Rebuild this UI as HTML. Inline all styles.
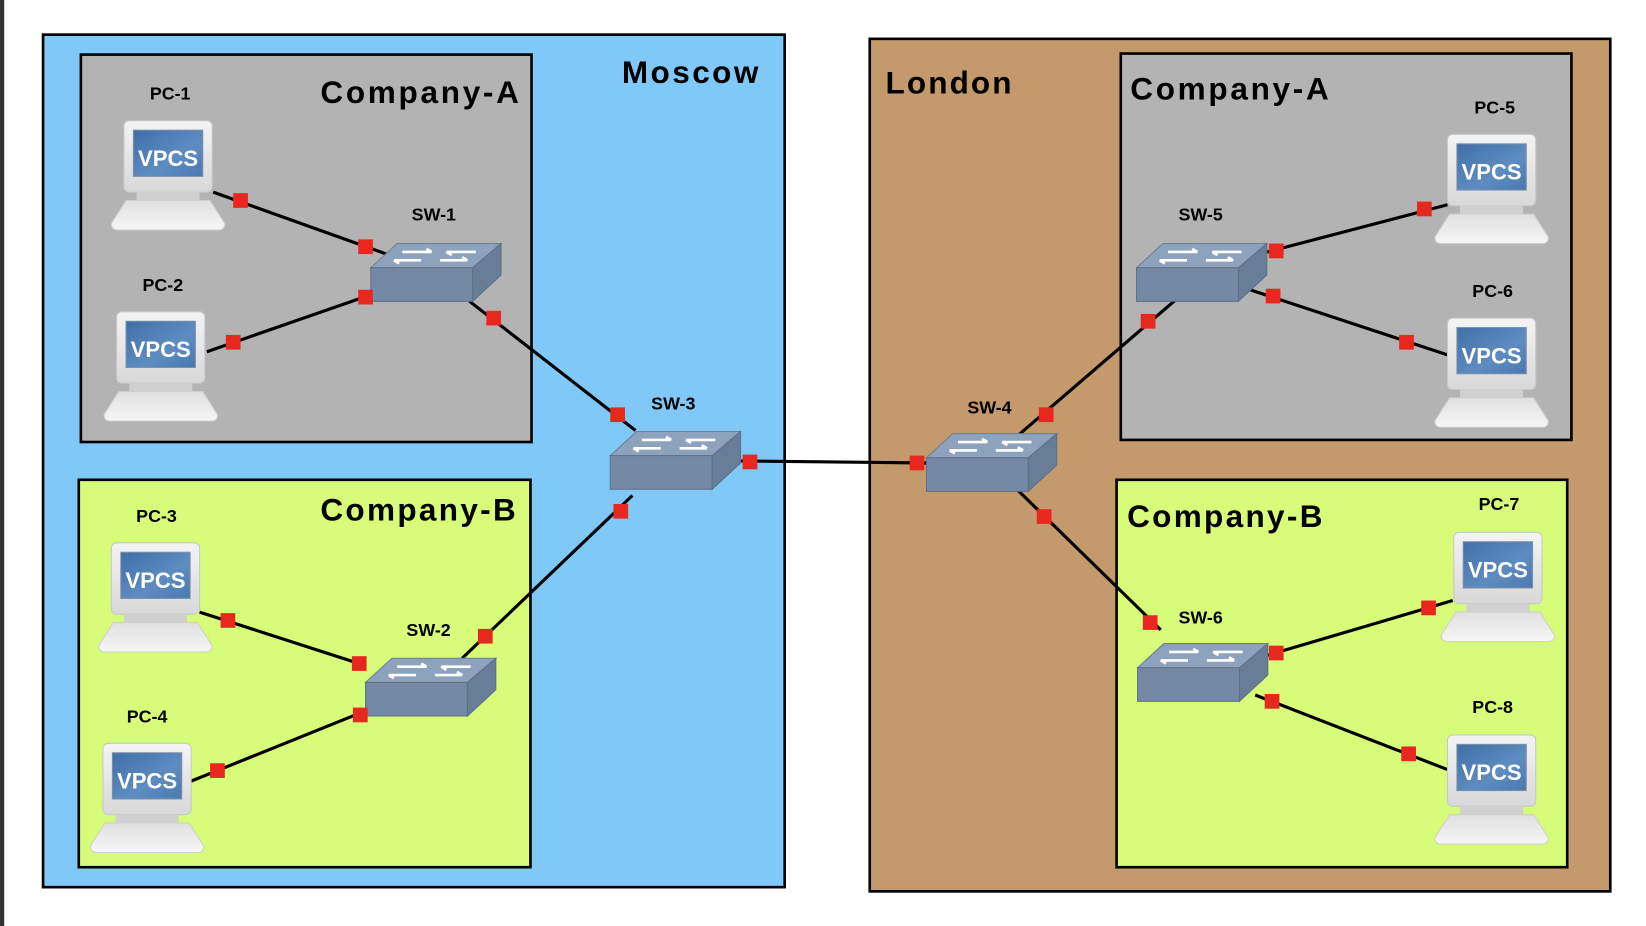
<!DOCTYPE html>
<html><head><meta charset="utf-8"><style>
html,body{margin:0;padding:0;background:#fff;}
svg{display:block;}
text{font-family:"Liberation Sans",sans-serif;}
</style></head><body>
<svg width="1646" height="926" viewBox="0 0 1567 882" preserveAspectRatio="none" xmlns="http://www.w3.org/2000/svg">
<defs>
<linearGradient id="scr" x1="0" y1="0" x2="1" y2="1"><stop offset="0" stop-color="#3f6fa8"/><stop offset="0.6" stop-color="#5f8cc0"/><stop offset="1" stop-color="#4a78b0"/></linearGradient>
<linearGradient id="mon" x1="0" y1="0" x2="0" y2="1"><stop offset="0" stop-color="#f4f4f4"/><stop offset="1" stop-color="#d8d8d8"/></linearGradient>
<linearGradient id="kb" x1="0" y1="0" x2="0" y2="1"><stop offset="0" stop-color="#e0e0e0"/><stop offset="1" stop-color="#f6f6f6"/></linearGradient>
<g id="pcg">
<rect x="-42" y="0" width="84" height="68" rx="5" fill="url(#mon)" stroke="#c8c8c8"/>
<rect x="-33" y="9" width="66" height="44" fill="url(#scr)" stroke="#7a90a8"/>
<rect x="-30" y="68" width="60" height="8" fill="#d0d0d0"/>
<path d="M-40 76 L40 76 L54 98 Q54 104 48 104 L-48 104 Q-54 104 -54 98 Z" fill="url(#kb)" stroke="#d0d0d0"/>
</g>
<g id="swg">
<path d="M0 23 L25 0 L124 0 L97 23 Z" fill="#8da2bd" stroke="#6d8098"/>
<path d="M0 23 L97 23 L97 55 L0 55 Z" fill="#7389a6" stroke="#5e7088"/>
<path d="M97 23 L124 0 L124 30 L97 55 Z" fill="#687d98" stroke="#5e7088"/>
<path d="M30 8 L58 8 M58 8 l-5 -3 M100 8 L72 8 M72 8 l5 3 M22 16 L48 16 M22 16 l5 3 M66 16 L92 16 M92 16 l-5 -3" stroke="#fff" stroke-width="2.5" fill="none"/>
</g>
<rect id="pt" x="-7" y="-7" width="14" height="14" fill="#e8281e"/>
</defs>
<rect x="0" y="0" width="1567" height="882" fill="#fff"/>
<rect x="0" y="0" width="4" height="882" fill="#333"/>
<rect x="41" y="33" width="706" height="812" fill="#80c8f8" stroke="#000" stroke-width="2.5"/>
<rect x="77" y="52" width="429" height="369" fill="#b3b3b3" stroke="#000" stroke-width="2.5"/>
<rect x="75" y="457" width="430" height="369" fill="#d6fc79" stroke="#000" stroke-width="2.5"/>
<rect x="828" y="37" width="705" height="812" fill="#c49a6c" stroke="#000" stroke-width="2.5"/>
<rect x="1067" y="51" width="429" height="368" fill="#b3b3b3" stroke="#000" stroke-width="2.5"/>
<rect x="1063" y="457" width="429" height="369" fill="#d6fc79" stroke="#000" stroke-width="2.5"/>
<g font-weight="bold" font-size="30" fill="#000">
<text x="592" y="79" textLength="130">Moscow</text>
<text x="843" y="89" textLength="120">London</text>
<text x="305" y="98" textLength="189">Company-A</text>
<text x="1076" y="95" textLength="189">Company-A</text>
<text x="305" y="496" textLength="186">Company-B</text>
<text x="1073" y="502" textLength="186">Company-B</text>
</g>
<g stroke="#000" stroke-width="3">
<line x1="203" y1="183" x2="368" y2="242"/>
<line x1="197" y1="335" x2="355" y2="280"/>
<line x1="447" y1="287" x2="605" y2="410"/>
<line x1="705" y1="439" x2="882" y2="441"/>
<line x1="602" y1="472" x2="440" y2="627"/>
<line x1="190" y1="583" x2="348" y2="634"/>
<line x1="182" y1="744" x2="348" y2="677"/>
<line x1="970" y1="414" x2="1120" y2="285"/>
<line x1="968" y1="466" x2="1105" y2="600"/>
<line x1="1195" y1="243" x2="1378" y2="195"/>
<line x1="1190" y1="276" x2="1378" y2="338"/>
<line x1="1197" y1="627" x2="1383" y2="572"/>
<line x1="1195" y1="662" x2="1378" y2="733"/>
</g>
<g font-weight="bold" font-size="21" fill="#fff" text-anchor="middle">
<use href="#pcg" x="160" y="115"/><text x="160" y="158">VPCS</text>
<use href="#pcg" x="153" y="297"/><text x="153" y="340">VPCS</text>
<use href="#pcg" x="148" y="517"/><text x="148" y="560">VPCS</text>
<use href="#pcg" x="140" y="708"/><text x="140" y="751">VPCS</text>
<use href="#pcg" x="1420" y="128"/><text x="1420" y="171">VPCS</text>
<use href="#pcg" x="1420" y="303"/><text x="1420" y="346">VPCS</text>
<use href="#pcg" x="1426" y="507"/><text x="1426" y="550">VPCS</text>
<use href="#pcg" x="1420" y="700"/><text x="1420" y="743">VPCS</text>
</g>
<use href="#swg" x="353" y="232"/>
<use href="#swg" x="348" y="627"/>
<use href="#swg" x="581" y="411"/>
<use href="#swg" x="882" y="413"/>
<use href="#swg" x="1082" y="232"/>
<use href="#swg" x="1083" y="613"/>
<use href="#pt" x="229" y="191"/><use href="#pt" x="348" y="235"/>
<use href="#pt" x="222" y="326"/><use href="#pt" x="348" y="283"/>
<use href="#pt" x="470" y="303"/><use href="#pt" x="588" y="395"/>
<use href="#pt" x="714" y="440"/><use href="#pt" x="873" y="441"/>
<use href="#pt" x="591" y="487"/><use href="#pt" x="462" y="606"/>
<use href="#pt" x="217" y="591"/><use href="#pt" x="342" y="632"/>
<use href="#pt" x="207" y="734"/><use href="#pt" x="343" y="681"/>
<use href="#pt" x="996" y="395"/><use href="#pt" x="1093" y="306"/>
<use href="#pt" x="994" y="492"/><use href="#pt" x="1095" y="593"/>
<use href="#pt" x="1215" y="239"/><use href="#pt" x="1356" y="199"/>
<use href="#pt" x="1212" y="282"/><use href="#pt" x="1339" y="326"/>
<use href="#pt" x="1215" y="622"/><use href="#pt" x="1360" y="579"/>
<use href="#pt" x="1211" y="668"/><use href="#pt" x="1341" y="718"/>
<g font-weight="bold" font-size="17" fill="#000" text-anchor="middle">
<text x="162" y="95">PC-1</text>
<text x="155" y="277">PC-2</text>
<text x="149" y="497">PC-3</text>
<text x="140" y="688">PC-4</text>
<text x="1423" y="108">PC-5</text>
<text x="1421" y="283">PC-6</text>
<text x="1427" y="486">PC-7</text>
<text x="1421" y="679">PC-8</text>
<text x="413" y="210">SW-1</text>
<text x="408" y="606">SW-2</text>
<text x="641" y="390">SW-3</text>
<text x="942" y="394">SW-4</text>
<text x="1143" y="210">SW-5</text>
<text x="1143" y="594">SW-6</text>
</g>
</svg>
</body></html>
